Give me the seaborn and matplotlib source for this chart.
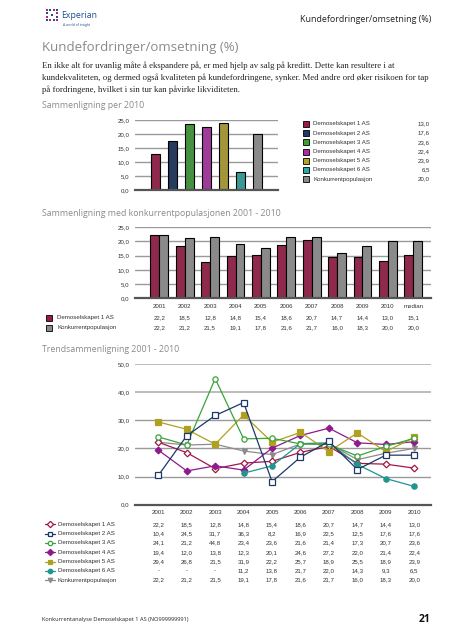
import numpy as np
import pandas as pd
import matplotlib as mpl
mpl.use("Agg")
import matplotlib.pyplot as plt
import matplotlib.transforms as mtrans
from matplotlib.lines import Line2D
from matplotlib.patches import Rectangle
import seaborn as sns

W, H = 453, 640

# ---- data ----
companies = ["Demoselskapet 1 AS", "Demoselskapet 2 AS", "Demoselskapet 3 AS",
             "Demoselskapet 4 AS", "Demoselskapet 5 AS", "Demoselskapet 6 AS",
             "Konkurrentpopulasjon"]
values_2010 = [13.0, 17.6, 23.6, 22.4, 23.9, 6.5, 20.0]

periods = ["2001", "2002", "2003", "2004", "2005", "2006", "2007", "2008", "2009", "2010", "median"]
demo1_hist = [22.2, 18.5, 12.8, 14.8, 15.4, 18.6, 20.7, 14.7, 14.4, 13.0, 15.1]
konk_hist = [22.2, 21.2, 21.5, 19.1, 17.8, 21.6, 21.7, 16.0, 18.3, 20.0, 20.0]

years = ["2001", "2002", "2003", "2004", "2005", "2006", "2007", "2008", "2009", "2010"]
trend_demo1 = [22.2, 18.5, 12.8, 14.8, 15.4, 18.6, 20.7, 14.7, 14.4, 13.0]
trend_demo2 = [10.4, 24.5, 31.7, 36.3, 8.2, 16.9, 22.5, 12.5, 17.6, 17.6]
trend_demo3 = [24.1, 21.2, 44.8, 23.4, 23.6, 21.6, 21.4, 17.3, 20.7, 23.6]
trend_demo4 = [19.4, 12.0, 13.8, 12.3, 20.1, 24.6, 27.2, 22.0, 21.4, 22.4]
trend_demo5 = [29.4, 26.8, 21.5, 31.9, 22.2, 25.7, 18.9, 25.5, 18.9, 23.9]
trend_demo6 = [np.nan, np.nan, np.nan, 11.2, 13.8, 21.7, 22.0, 14.3, 9.3, 6.5]
trend_konk = [22.2, 21.2, 21.5, 19.1, 17.8, 21.6, 21.7, 16.0, 18.3, 20.0]

bar_colors = ["#a01848", "#1e3868", "#3a9e32", "#b02aa8", "#b3a22a", "#2aaaa0", "#8a8a8a"]
line_colors = ["#a01848", "#1e3868", "#3aa43a", "#8e1a8e", "#b0a020", "#20958e", "#8c8c8c"]
markers = ["D", "s", "o", "D", "s", "o", "v"]
open_marker = [True, True, True, False, False, False, False]

sns.set_style("white")
plt.rcParams["font.family"] = ["Liberation Sans", "DejaVu Sans"]

HEAD = ["Open Sans", "DejaVu Sans"]
GREY_HEAD = "#8a8a8a"
SMALL = 4.4


def fx(px):
    return px / W


def fy(py):
    return 1 - py / H


def fmt(v):
    if v is None or (isinstance(v, float) and np.isnan(v)):
        return "-"
    return f"{v:.1f}".replace(".", ",")


fig = plt.figure(figsize=(W / 100, H / 100), dpi=100)

# ---- page header ----
logo = fig.add_axes([fx(45), fy(22), fx(14), 14 / H])
gx, gy = np.meshgrid(np.arange(4), np.arange(4))
mask = ~(((gx == 1) | (gx == 2)) & ((gy == 1) | (gy == 2)))
dot_cols = np.where((gx + gy) % 2 == 0, "#1d4f91", "#b5267b")
logo.scatter(gx[mask], gy[mask], s=2.6, marker="s", c=dot_cols[mask], linewidths=0)
logo.scatter([1.5], [1.5], s=4, marker="s", c="#1d4f91", linewidths=0)
logo.set_xlim(-0.6, 3.6)
logo.set_ylim(-0.6, 3.6)
logo.axis("off")
fig.text(fx(61), fy(16), "Experian", fontsize=6.3, color="#1d4f91", family=HEAD, va="center")
fig.text(fx(63), fy(25), "A world of insight", fontsize=2.4, color="#1d4f91", family=HEAD, va="center")

fig.text(fx(431), fy(19), "Kundefordringer/omsetning (%)", fontsize=6.4, color="#222222",
         family=HEAD, ha="right", va="center")
fig.text(fx(42), fy(48), "Kundefordringer/omsetning (%)", fontsize=9.5, color=GREY_HEAD,
         family=HEAD, va="center")
para = ["En ikke alt for uvanlig måte å ekspandere på, er med hjelp av salg på kreditt. Dette kan resultere i at",
        "kundekvaliteten, og dermed også kvaliteten på kundefordringene, synker. Med andre ord øker risikoen for tap",
        "på fordringene, hvilket i sin tur kan påvirke likviditeten."]
for i, line in enumerate(para):
    fig.text(fx(42), fy(66 + i * 11.8), line, fontsize=6.3, color="#222222",
             family=["Liberation Serif", "DejaVu Serif"], va="center")

fig.text(fx(42), fy(106), "Sammenligning per 2010", fontsize=6.3, color=GREY_HEAD, family=HEAD, va="center")
fig.text(fx(42), fy(214), "Sammenligning med konkurrentpopulasjonen 2001 - 2010", fontsize=6.3,
         color=GREY_HEAD, family=HEAD, va="center")
fig.text(fx(42), fy(350), "Trendsammenligning 2001 - 2010", fontsize=6.3, color=GREY_HEAD,
         family=HEAD, va="center")

fig.text(fx(42), fy(620), "Konkurrentanalyse Demoselskapet 1 AS (NO999999991)", fontsize=4.1,
         color="#222222", family=HEAD, va="center")
fig.text(fx(431), fy(620), "21", fontsize=7.5, color="#111111", family=HEAD, weight="bold",
         ha="right", va="center")


def style_axes(ax, top, step):
    ax.set_ylim(0, top)
    ax.set_yticks(np.arange(0, top + 0.01, step))
    ax.set_yticklabels([fmt(v) for v in np.arange(0, top + 0.01, step)])
    ax.yaxis.grid(True, color="#9a9a9a", linewidth=1.0)
    ax.set_axisbelow(True)
    for s in ["top", "right", "left"]:
        ax.spines[s].set_visible(False)
    ax.spines["bottom"].set_color("#555555")
    ax.spines["bottom"].set_linewidth(1.6)
    ax.tick_params(axis="both", length=0, labelsize=SMALL, colors="#333333", pad=4)
    ax.set_xlabel("")
    ax.set_ylabel("")


# ---- chart 1: 2010 comparison ----
ax1 = fig.add_axes([fx(135), fy(190), fx(143), 70 / H])
df1 = pd.DataFrame({"company": companies, "value": values_2010})
sns.barplot(data=df1, x="company", y="value", hue="company", palette=bar_colors,
            width=0.56, edgecolor="black", linewidth=0.8, legend=False, ax=ax1)
style_axes(ax1, 25, 5)
ax1.set_xlim(-1.2, 7.2)
ax1.set_xticks([])

for i, (name, val) in enumerate(zip(companies, values_2010)):
    yy = 124 + i * 9.2
    fig.add_artist(Rectangle((fx(302.5), fy(yy + 3)), fx(6), 6 / H, facecolor=bar_colors[i],
                             edgecolor="black", linewidth=0.6, transform=fig.transFigure))
    fig.text(fx(313), fy(yy), name, fontsize=SMALL, color="#333333", va="center")
    fig.text(fx(430), fy(yy), fmt(val), fontsize=SMALL, color="#333333", va="center", ha="right")

# ---- chart 2: history vs population ----
ax2 = fig.add_axes([fx(135), fy(298.3), fx(296), 71 / H])
df2 = pd.DataFrame({
    "period": periods * 2,
    "value": demo1_hist + konk_hist,
    "series": [companies[0]] * len(periods) + [companies[6]] * len(periods),
})
sns.barplot(data=df2, x="period", y="value", hue="series", order=periods,
            hue_order=[companies[0], companies[6]], palette=[bar_colors[0], bar_colors[6]],
            width=0.7, gap=0, edgecolor="black", linewidth=0.8, legend=False, ax=ax2)
style_axes(ax2, 25, 5)
ax2.set_xlim(-0.96, 10.7)
ax2.set_xticks(range(len(periods)))
ax2.set_xticklabels(periods)

tr2 = mtrans.blended_transform_factory(ax2.transData, fig.transFigure)
for r, (name, vals, col) in enumerate([(companies[0], demo1_hist, bar_colors[0]),
                                        (companies[6], konk_hist, bar_colors[6])]):
    yy = 318 + r * 9.5
    fig.add_artist(Rectangle((fx(46), fy(yy + 3)), fx(6), 6 / H, facecolor=col,
                             edgecolor="black", linewidth=0.6, transform=fig.transFigure))
    fig.text(fx(57), fy(yy), name, fontsize=SMALL, color="#333333", va="center")
    for i, v in enumerate(vals):
        ax2.text(i, fy(yy), fmt(v), transform=tr2, fontsize=SMALL, color="#333333",
                 ha="center", va="center")

# ---- chart 3: trend lines ----
ax3 = fig.add_axes([fx(135), fy(504.7), fx(296), 140.7 / H])
trends = [trend_demo1, trend_demo2, trend_demo3, trend_demo4, trend_demo5, trend_demo6, trend_konk]
xs = np.arange(len(years))
for k in [6, 0, 3, 5, 4, 2, 1]:
    face = "white" if open_marker[k] else line_colors[k]
    ms = 3.8 if markers[k] != "v" else 3.6
    if markers[k] == "D":
        ms = 3.4
    sns.lineplot(x=xs, y=trends[k], ax=ax3, color=line_colors[k], linewidth=0.9,
                 marker=markers[k], markersize=ms, markerfacecolor=face,
                 markeredgecolor=line_colors[k], markeredgewidth=0.9)
style_axes(ax3, 50, 10)
for gl, v in zip(ax3.get_ygridlines(), np.arange(0, 50.01, 10)):
    if v >= 40:
        gl.set_color("#b5b5b5")
        gl.set_linewidth(1.3)
ax3.set_xlim(-0.82, 9.59)
ax3.set_xticks(xs)
ax3.set_xticklabels(years)

tr3 = mtrans.blended_transform_factory(ax3.transData, fig.transFigure)
for k, (name, vals) in enumerate(zip(companies, trends)):
    yy = 524.3 + k * 9.33
    face = "white" if open_marker[k] else line_colors[k]
    fig.add_artist(Line2D([fx(44.5), fx(49.5), fx(54.5)], [fy(yy), fy(yy), fy(yy)],
                          color=line_colors[k], linewidth=0.9, marker=markers[k], markevery=[1],
                          markersize=3.2, markerfacecolor=face, markeredgecolor=line_colors[k],
                          markeredgewidth=0.9, transform=fig.transFigure))
    fig.text(fx(57.5), fy(yy), name, fontsize=SMALL, color="#333333", va="center")
    for i, v in enumerate(vals):
        ax3.text(i, fy(yy), fmt(v), transform=tr3, fontsize=SMALL, color="#333333",
                 ha="center", va="center")

fig.savefig("out.png", dpi=100)
